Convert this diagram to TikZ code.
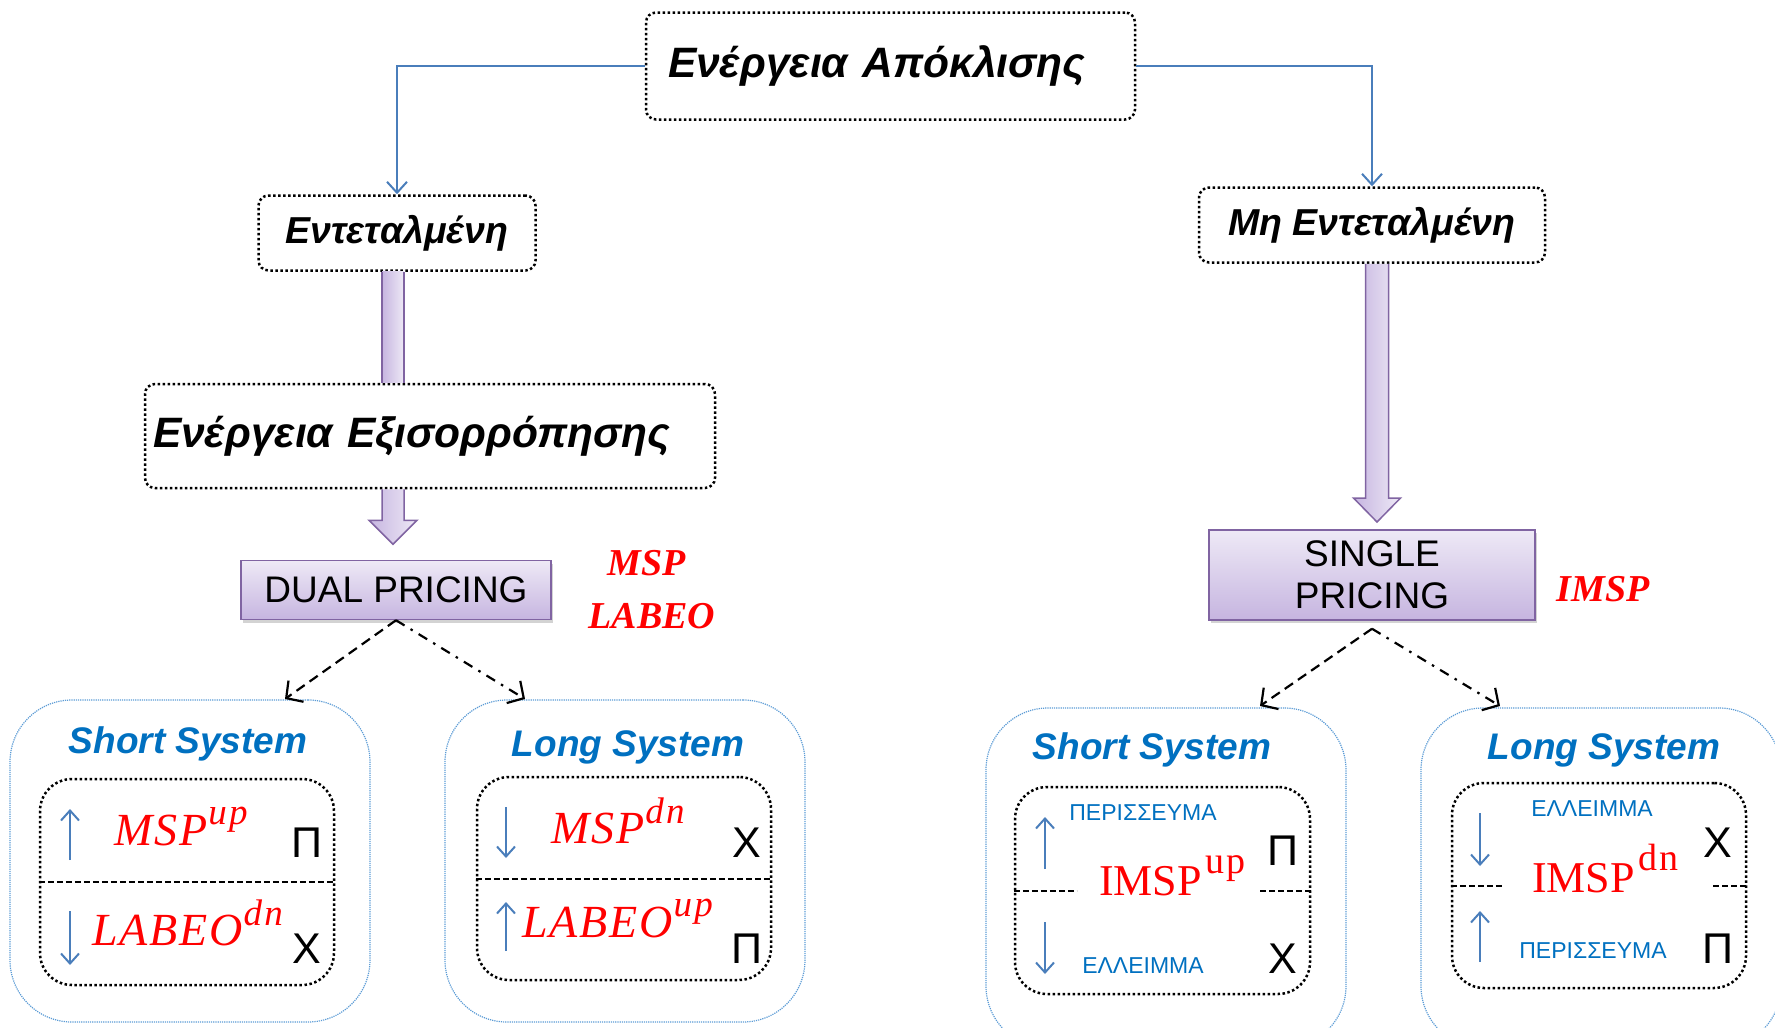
\documentclass[tikz,border=0pt]{standalone}
\usepackage{fontspec}
\setmainfont{Liberation Sans}
\newfontfamily\serif{Liberation Serif}
\usetikzlibrary{arrows.meta,shadows,calc}
\definecolor{tblue}{HTML}{0070C0}
\definecolor{ablue}{HTML}{4A7EBB}
\definecolor{obox}{HTML}{5B9BD5}
\definecolor{pborder}{HTML}{8064A2}
\definecolor{ptop}{HTML}{EEE9F6}
\definecolor{pbot}{HTML}{C6B5E0}
\definecolor{mred}{HTML}{FF0000}
\newcommand\supit[2]{\hspace{1pt}\raisebox{#1}{\fontsize{37}{37}\selectfont\addfontfeature{LetterSpace=6}#2}}
\newcommand\supup[2]{\hspace{4pt}\raisebox{#1}{\fontsize{38}{38}\selectfont\addfontfeature{LetterSpace=5}#2}}
\tikzset{
  dotbox/.style={draw=black, line width=2.5pt, dash pattern=on 2.5pt off 2.5pt, rounded corners=10pt, inner sep=0pt},
  hdr/.style={font=\fontsize{42.5}{50}\selectfont\bfseries\itshape},
  hdrs/.style={font=\fontsize{37.5}{44}\selectfont\bfseries\itshape},
  conn/.style={draw=ablue, line width=2pt, -{Straight Barb[length=11pt,width=20pt,line width=2pt]}},
  sysbox/.style={draw=obox, line width=1.2pt, densely dotted, rounded corners=62pt, inner sep=0pt},
  inbox/.style={draw=black, line width=2.5pt, dash pattern=on 2.5pt off 2.5pt, rounded corners=32pt, inner sep=0pt},
  systitle/.style={text=tblue, font=\fontsize{37}{40}\selectfont\bfseries\itshape},
  pricebox/.style={draw=pborder, line width=1.5pt, top color=ptop, bottom color=pbot,
     drop shadow={opacity=0.35, shadow xshift=2pt, shadow yshift=-3pt},
     font=\fontsize{37}{45}\selectfont, align=center, inner sep=0pt},
  price/.style={text=mred, font=\serif\fontsize{38}{44}\selectfont\bfseries\itshape},
  mit/.style={text=mred, font=\serif\fontsize{46}{50}\selectfont\itshape\addfontfeature{LetterSpace=4}, inner sep=0pt, anchor=base west},
  mup/.style={text=mred, font=\serif\fontsize{44}{50}\selectfont, inner sep=0pt, anchor=base west},
  arr/.style={draw=ablue, line width=2pt, -{Straight Barb[length=10pt,width=18pt,line width=2pt]}},
  sym/.style={font=\fontsize{43}{48}\selectfont, inner sep=0pt},
  gr/.style={text=tblue, font=\fontsize{23}{26}\selectfont, inner sep=0pt},
  sep/.style={draw=black, line width=2pt, dash pattern=on 6pt off 3pt},
  bafill/.style={left color=pbot, right color=ptop},
  badraw/.style={draw=pborder, line width=1.5pt, line join=miter},
  dasharr/.style={draw=black, line width=2.2pt, dash pattern=on 10pt off 6pt,
     -{Straight Barb[length=12pt,width=26pt,line width=2.2pt]}},
  dotdasharr/.style={draw=black, line width=2.2pt, dash pattern=on 10pt off 7pt on 2.5pt off 7pt,
     -{Straight Barb[length=12pt,width=26pt,line width=2.2pt]}},
}
\begin{document}
\begin{tikzpicture}[x=1pt,y=-1pt]
\useasboundingbox (0,0) rectangle (1775,1028);
\clip (0,0) rectangle (1775,1028);

% top level boxes
\node[dotbox, hdr, text width=445pt, inner xsep=22pt, align=left, minimum height=107pt] (top) at (890.5,66) {Ενέργεια Απόκλισης};
\node[dotbox, hdrs, minimum width=277pt, minimum height=75pt] (ent) at (397,233) {Εντεταλμένη};
\node[dotbox, hdrs, minimum width=346pt, minimum height=75pt] (ment) at (1372,225) {Μη Εντεταλμένη};
\node[dotbox, hdr, text width=554pt, inner xsep=8pt, align=left, minimum height=104pt] (exis) at (430,436) {Ενέργεια Εξισορρόπησης};

\draw[conn] (top.west) -| (ent.north);
\draw[conn] (top.east) -| (ment.north);

% pricing boxes
\node[pricebox, minimum width=310pt, minimum height=59pt] (dual) at (396,590) {DUAL PRICING};
\node[pricebox, minimum width=326pt, minimum height=90pt] (single) at (1372,575) {SINGLE\\[-3pt]PRICING};

\node[price] (msp) at (647,563) {MSP};
\node[price] (labeo) at (652,616) {LABEO};
\node[price] (imsp) at (1603,589) {IMSP};

% block arrows
\coordinate (b1) at (393,0);
\coordinate (b2) at (1377,0);
\path[bafill] ($(b1 |- ent.south)+(-11,0)$) rectangle ($(b1 |- exis.north)+(11,0)$);
\draw[badraw] ($(b1 |- ent.south)+(-11,0)$) -- ($(b1 |- exis.north)+(-11,0)$);
\draw[badraw] ($(b1 |- ent.south)+(11,0)$) -- ($(b1 |- exis.north)+(11,0)$);

\path[bafill] ($(b1 |- exis.south)+(-11,0)$) -- ++(0,31) -- ++(-13,0) -- ++(24,24) -- ++(24,-24) -- ++(-13,0) -- ++(0,-31) -- cycle;
\draw[badraw] ($(b1 |- exis.south)+(-11,0)$) -- ++(0,31) -- ++(-13,0) -- ++(24,24) -- ++(24,-24) -- ++(-13,0) -- ++(0,-31);

\path[bafill] ($(b2 |- ment.south)+(-11.5,0)$) -- (1365.5,498) -- ++(-12,0) -- ++(23.5,24) -- ++(23.5,-24) -- ++(-12,0) -- ($(b2 |- ment.south)+(11.5,0)$) -- cycle;
\draw[badraw] ($(b2 |- ment.south)+(-11.5,0)$) -- (1365.5,498) -- ++(-12,0) -- ++(23.5,24) -- ++(23.5,-24) -- ++(-12,0) -- ($(b2 |- ment.south)+(11.5,0)$);

% system boxes
\node[sysbox, minimum width=360pt, minimum height=322pt] (ssL) at (190,861) {};
\node[sysbox, minimum width=360pt, minimum height=322pt] (lsL) at (625,861) {};
\node[sysbox, minimum width=360pt, minimum height=340pt] (ssR) at (1166,878) {};
\node[sysbox, minimum width=360pt, minimum height=340pt] (lsR) at (1601,878) {};

\node[systitle] (tsL) at (188,744) {Short System};
\node[systitle] (tlL) at (628,747) {Long System};
\node[systitle] (tsR) at (1152,750) {Short System};
\node[systitle] (tlR) at (1604,750) {Long System};

% dashed arrows
\coordinate (dap) at (dual.south);
\coordinate (dL) at (285,699);
\coordinate (dR) at (525,699);
\draw[dasharr] (dap) -- (dL);
\draw[dotdasharr] (dap) -- (dR);
\coordinate (sap) at ($(single.south)+(0,8)$);
\coordinate (sL) at (1260,706);
\coordinate (sR) at (1500,706);
\draw[dasharr] (sap) -- (sL);
\draw[dotdasharr] (sap) -- (sR);

% inner boxes
\node[inbox, minimum width=294pt, minimum height=206pt] (isL) at (187,882) {};
\node[inbox, minimum width=294pt, minimum height=203pt] (ilL) at (624,878.5) {};
\node[inbox, minimum width=295pt, minimum height=207pt] (isR) at (1162.5,890.5) {};
\node[inbox, minimum width=294pt, minimum height=205pt] (ilR) at (1599,885.5) {};

\draw[sep] (isL.west) -- (isL.east);
\draw[sep] (ilL.west) -- (ilL.east);
\draw[sep] (isR.west) -- ($(isR.west)+(63,0)$);
\draw[sep] ($(isR.east)+(-51,0)$) -- (isR.east);
\draw[sep] (ilR.west) -- ($(ilR.west)+(51,0)$);
\draw[sep] ($(ilR.east)+(-34,0)$) -- (ilR.east);

% left short contents
\coordinate (a1s) at (70,860); \coordinate (a1e) at (70,809);
\coordinate (a2s) at (70,911); \coordinate (a2e) at (70,965);
\draw[arr] (a1s) -- (a1e);
\draw[arr] (a2s) -- (a2e);
\node[mit] (m1) at (114,845) {MSP\supit{21pt}{up}};
\node[mit] (m2) at (92,945) {LABEO\supit{20pt}{dn}};
\node[sym] (p1) at (307,843) {Π};
\node[sym] (x1) at (307,949) {Χ};

% left long contents
\coordinate (a3s) at (506,807); \coordinate (a3e) at (506,858);
\coordinate (a4s) at (506,951); \coordinate (a4e) at (506,902);
\draw[arr] (a3s) -- (a3e);
\draw[arr] (a4s) -- (a4e);
\node[mit] (m3) at (551,843) {MSP\supit{20pt}{dn}};
\node[mit] (m4) at (522,937) {LABEO\supit{21pt}{up}};
\node[sym] (x2) at (747,843) {Χ};
\node[sym] (p2) at (747,949) {Π};

% right short contents
\coordinate (a5s) at (1045,869); \coordinate (a5e) at (1045,817);
\coordinate (a6s) at (1045,922); \coordinate (a6e) at (1045,974);
\draw[arr] (a5s) -- (a5e);
\draw[arr] (a6s) -- (a6e);
\node[gr] (g1) at (1143,813) {ΠΕΡΙΣΣΕΥΜΑ};
\node[gr] (g2) at (1143,966) {ΕΛΛΕΙΜΜΑ};
\node[mup] (m5) at (1099,895) {IMSP\supup{22pt}{up}};
\node[sym] (p3) at (1283,851) {Π};
\node[sym] (x3) at (1283,959) {Χ};

% right long contents
\coordinate (a7s) at (1480,813); \coordinate (a7e) at (1480,866);
\coordinate (a8s) at (1480,962); \coordinate (a8e) at (1480,911);
\draw[arr] (a7s) -- (a7e);
\draw[arr] (a8s) -- (a8e);
\node[gr] (g3) at (1592,809) {ΕΛΛΕΙΜΜΑ};
\node[gr] (g4) at (1593,951) {ΠΕΡΙΣΣΕΥΜΑ};
\node[mup] (m6) at (1532,892) {IMSP\supup{22pt}{dn}};
\node[sym] (x4) at (1718,843) {Χ};
\node[sym] (p4) at (1718,949) {Π};
\end{tikzpicture}
\end{document}
